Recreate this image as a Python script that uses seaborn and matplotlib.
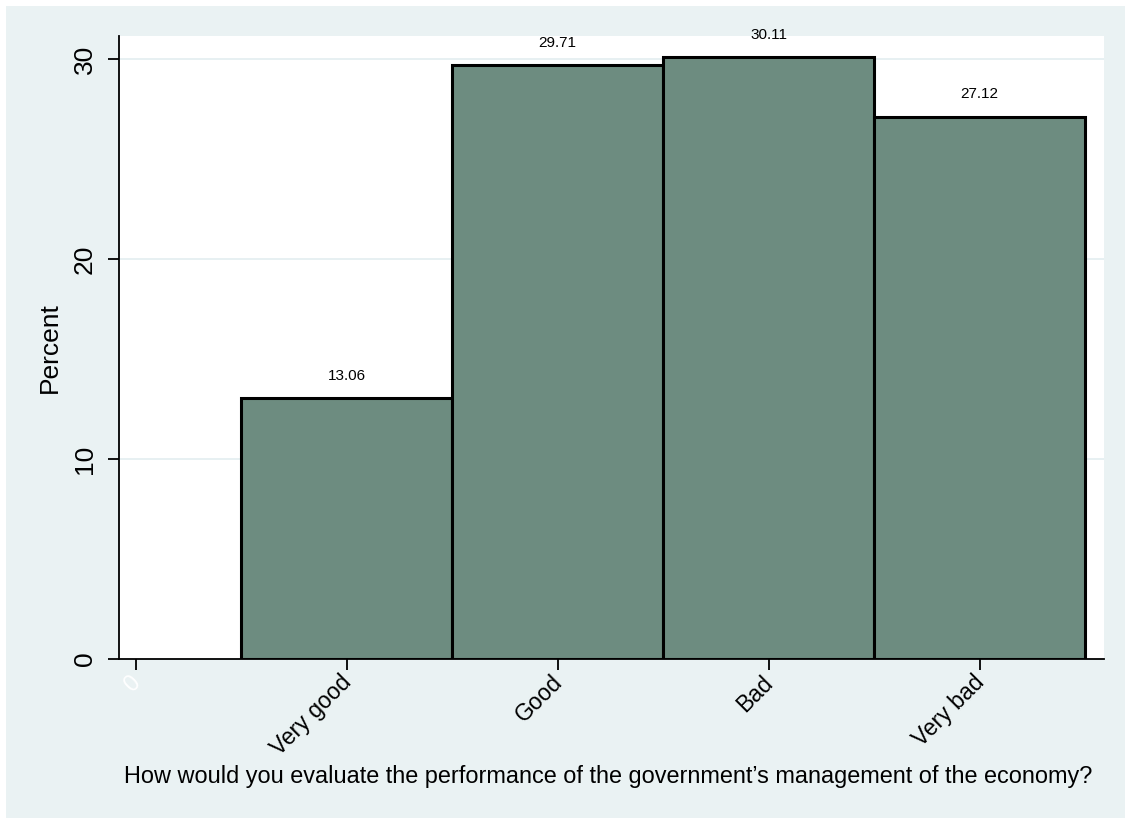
import matplotlib
matplotlib.use("Agg")
import matplotlib.pyplot as plt
import matplotlib.transforms as mtransforms
import seaborn as sns
import pandas as pd
from matplotlib.patches import Rectangle

# Data
codes = [1, 2, 3, 4]
categories = ["Very good", "Good", "Bad", "Very bad"]
percent = [13.06, 29.71, 30.11, 27.12]
tick_positions = [0, 1, 2, 3, 4]
tick_labels = ["0"] + categories
y_ticks = [0, 10, 20, 30]

df = pd.DataFrame({"code": codes, "percent": percent})

sns.set_style("white")
plt.rcParams["font.family"] = ["Liberation Sans", "DejaVu Sans"]
plt.rcParams["text.color"] = "black"
plt.rcParams["axes.labelcolor"] = "black"
plt.rcParams["xtick.color"] = "black"
plt.rcParams["ytick.color"] = "black"

W, H = 1125, 818
fig = plt.figure(figsize=(W / 100, H / 100), dpi=100, facecolor="white")
# Stata-like light background panel
fig.patches.append(Rectangle((6 / W, 0), 1, (H - 6) / H, transform=fig.transFigure,
                             facecolor="#EAF2F3", edgecolor="none", zorder=-10))

ax = fig.add_axes([119 / W, (H - 659) / H, (1104 - 119) / W, (659 - 36) / H])
ax.set_facecolor("white")

sns.barplot(data=df, x="code", y="percent", native_scale=True, width=1.0,
            color="#6D8C80", saturation=1, edgecolor="black", linewidth=2.2,
            ax=ax, zorder=3)

ax.bar_label(ax.containers[0], fmt="%.2f", padding=11, fontsize=11,
             color="black", clip_on=False)

ax.set_xlim(-0.08, 4.59)
ax.set_ylim(0, 31.15)

for y in y_ticks[1:]:
    ax.axhline(y, color="#E3EEF0", linewidth=1.2, zorder=1)

ax.set_yticks(y_ticks)
ax.set_yticklabels([str(t) for t in y_ticks], rotation=90, va="center", fontsize=19)
ax.set_xticks(tick_positions)
ax.set_xticklabels([])

# rotated category labels, ends tucked under each tick (Stata style)
lab_tr = ax.get_xaxis_transform() + mtransforms.ScaledTranslation(
    -7 / 100, -12 / 100, fig.dpi_scale_trans)
for pos, lbl in zip(tick_positions, tick_labels):
    ax.text(pos, 0, lbl, transform=lab_tr, rotation=45, ha="right", va="top",
            rotation_mode="anchor", fontsize=16.5,
            color="white" if lbl == "0" else "black", clip_on=False)

ax.tick_params(axis="y", left=True, direction="out", length=8, width=1.3, pad=8)
ax.tick_params(axis="x", bottom=True, direction="out", length=8, width=1.3, pad=4)

for side in ["top", "right"]:
    ax.spines[side].set_visible(False)
for side in ["left", "bottom"]:
    ax.spines[side].set_color("black")
    ax.spines[side].set_linewidth(1.3)

ax.set_ylabel("Percent", fontsize=19, labelpad=8)
ax.set_xlabel("How would you evaluate the performance of the government\u2019s management of the economy?",
              fontsize=16.9, labelpad=0)
ax.xaxis.set_label_coords(0.497, (659 - 776) / (659 - 36))
ax.xaxis.label.set_va("center")

fig.savefig("out.png", dpi=100, facecolor=fig.get_facecolor())
